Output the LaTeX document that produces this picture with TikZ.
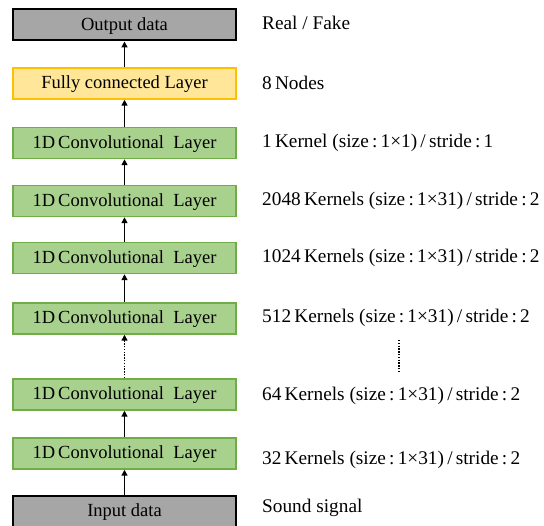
\documentclass[tikz,border=0pt]{standalone}
\usepackage{fontspec}
\setmainfont{Liberation Serif}
\usetikzlibrary{arrows.meta}

\definecolor{iofill}{HTML}{A6A6A6}
\definecolor{fcfill}{HTML}{FFE699}
\definecolor{fcline}{HTML}{FFC000}
\definecolor{convfill}{HTML}{A9D18E}
\definecolor{convline}{HTML}{70AD47}

\tikzset{
  x=1pt, y=-1pt,
  layer/.style={minimum width=223pt, minimum height=31pt, inner sep=0pt,
    text height=13.5pt, text depth=3pt,
    font=\fontsize{18.5}{21}\selectfont},
  iobox/.style={layer, fill=iofill, draw=black, line width=2pt},
  fcbox/.style={layer, fill=fcfill, draw=fcline, line width=1.5pt},
  convbox/.style={layer, fill=convfill, draw=convline, line width=1.5pt},
  note/.style={anchor=base west, inner sep=0pt, font=\fontsize{19.3}{22}\selectfont},
  flow/.style={line width=1.6pt, -{Triangle[length=6pt,width=6pt]}},
  skipflow/.style={flow, dash pattern=on 1.4pt off 1.4pt},
}

\newcommand{\convtext}{1D\,Convolutional\ \ Layer}

\begin{document}
\begin{tikzpicture}
  \useasboundingbox (0,0) rectangle (544,526);

  % layer stack, bottom to top
  \node[iobox]   (in)  at (124.5,511.5) {Input data};
  \node[convbox] (c6)  at (124.5,453.5) {\convtext};
  \node[convbox] (c5)  at (124.5,394.5) {\convtext};
  \node[convbox] (c4)  at (124.5,318.5) {\convtext};
  \node[convbox] (c3)  at (124.5,258.0) {\convtext};
  \node[convbox] (c2)  at (124.5,201.0) {\convtext};
  \node[convbox] (c1)  at (124.5,143.0) {\convtext};
  \node[fcbox]   (fc)  at (124.5,83.5)  {Fully connected Layer};
  \node[iobox]   (out) at (124.5,25.0)  {Output data};

  % data flow
  \draw[flow] (in) -- (c6);
  \draw[flow] (c6) -- (c5);
  \draw[skipflow] (c5) -- (c4);
  \draw[flow] (c4) -- (c3);
  \draw[flow] (c3) -- (c2);
  \draw[flow] (c2) -- (c1);
  \draw[flow] (c1) -- (fc);
  \draw[flow] (fc) -- (out);

  % descriptions (placed on their baselines)
  \node[note] (dout) at (262,29.5)  {Real / Fake};
  \node[note] (dfc)  at (262,90.0)  {8\,Nodes};
  \node[note] (d1)   at (262,147.5) {1\,Kernel (size\,:\,1×1)\,/\,stride\,:\,1};
  \node[note] (d2)   at (262,206.0) {2048\,Kernels (size\,:\,1×31)\,/\,stride\,:\,2};
  \node[note] (d3)   at (262,263.0) {1024\,Kernels (size\,:\,1×31)\,/\,stride\,:\,2};
  \node[note] (d4)   at (262,323.0) {512\,Kernels (size\,:\,1×31)\,/\,stride\,:\,2};
  \node[note] (d5)   at (262,401.0) {64\,Kernels (size\,:\,1×31)\,/\,stride\,:\,2};
  \node[note] (d6)   at (262,465.0) {32\,Kernels (size\,:\,1×31)\,/\,stride\,:\,2};
  \node[note] (din)  at (262,513.0) {Sound signal};

  % gap marker between the listed layers
  \coordinate (gtop) at (399,340);
  \coordinate (gbot) at (399,373);
  \draw[line width=1.6pt, dash pattern=on 1.4pt off 1.4pt] (gtop) -- (gbot);
\end{tikzpicture}
\end{document}
